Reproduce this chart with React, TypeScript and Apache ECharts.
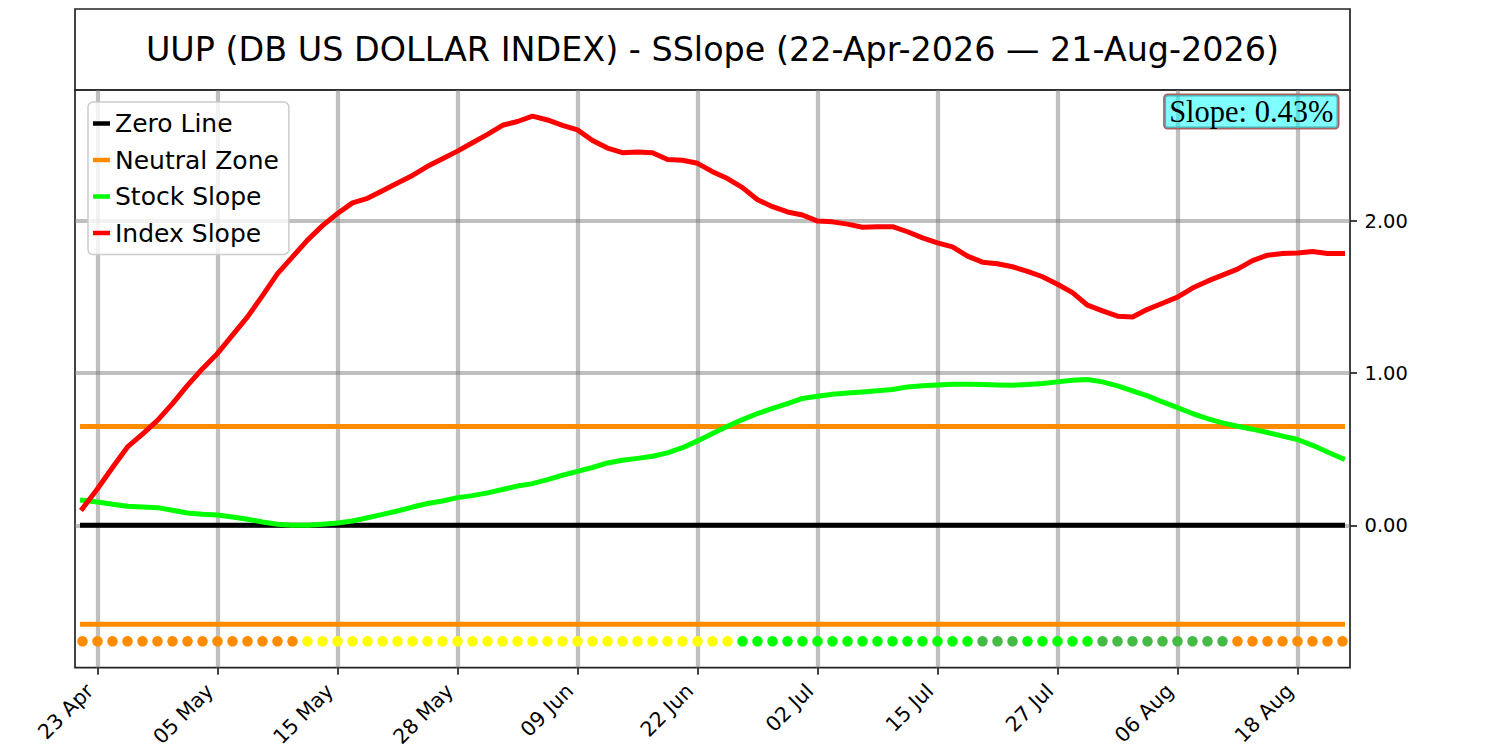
import { useEffect, useRef } from 'react';
import * as echarts from 'echarts';

const dates = [
  '22 Apr', '23 Apr', '24 Apr', '27 Apr', '28 Apr', '29 Apr', '30 Apr',
  '01 May', '04 May', '05 May', '06 May', '07 May', '08 May', '11 May', '12 May', '13 May', '14 May', '15 May',
  '18 May', '19 May', '20 May', '21 May', '22 May', '26 May', '27 May', '28 May', '29 May',
  '01 Jun', '02 Jun', '03 Jun', '04 Jun', '05 Jun', '08 Jun', '09 Jun', '10 Jun', '11 Jun', '12 Jun',
  '15 Jun', '16 Jun', '17 Jun', '18 Jun', '22 Jun', '23 Jun', '24 Jun', '25 Jun', '26 Jun', '29 Jun', '30 Jun',
  '01 Jul', '02 Jul', '06 Jul', '07 Jul', '08 Jul', '09 Jul', '10 Jul', '13 Jul', '14 Jul', '15 Jul',
  '16 Jul', '17 Jul', '20 Jul', '21 Jul', '22 Jul', '23 Jul', '24 Jul', '27 Jul', '28 Jul', '29 Jul', '30 Jul', '31 Jul',
  '03 Aug', '04 Aug', '05 Aug', '06 Aug', '07 Aug', '10 Aug', '11 Aug', '12 Aug', '13 Aug', '14 Aug', '17 Aug', '18 Aug',
  '19 Aug', '20 Aug', '21 Aug',
];

const indexSlope = [
  0.11, 0.24, 0.38, 0.515, 0.6, 0.69, 0.8, 0.92, 1.03, 1.13,
  1.25, 1.37, 1.51, 1.655, 1.765, 1.875, 1.97, 2.05, 2.12, 2.15,
  2.2, 2.25, 2.3, 2.36, 2.41, 2.46, 2.515, 2.57, 2.63, 2.655,
  2.69, 2.665, 2.63, 2.6, 2.53, 2.48, 2.45, 2.455, 2.45, 2.405,
  2.4, 2.38, 2.325, 2.28, 2.22, 2.14, 2.095, 2.06, 2.04, 2.0,
  1.995, 1.98, 1.96, 1.963, 1.963, 1.93, 1.89, 1.857, 1.83, 1.77,
  1.73, 1.72, 1.7, 1.67, 1.634, 1.585, 1.53, 1.447, 1.41, 1.375,
  1.37, 1.42, 1.46, 1.5, 1.56, 1.605, 1.645, 1.684, 1.74, 1.776,
  1.787, 1.79, 1.8, 1.787, 1.787,
];

const stockSlope = [
  0.164, 0.153, 0.138, 0.125, 0.12, 0.116, 0.099, 0.081, 0.072, 0.068,
  0.055, 0.04, 0.022, 0.007, 0.0, 0.0, 0.007, 0.015, 0.028, 0.05,
  0.072, 0.094, 0.12, 0.143, 0.16, 0.182, 0.195, 0.213, 0.235, 0.258,
  0.274, 0.3, 0.329, 0.355, 0.38, 0.41, 0.428, 0.44, 0.454, 0.476,
  0.51, 0.555, 0.603, 0.651, 0.695, 0.735, 0.768, 0.8, 0.834, 0.849,
  0.862, 0.87, 0.877, 0.884, 0.893, 0.91, 0.918, 0.923, 0.928, 0.928,
  0.926, 0.923, 0.921, 0.926, 0.932, 0.943, 0.954, 0.958, 0.943, 0.917,
  0.884, 0.851, 0.811, 0.774, 0.735, 0.702, 0.673, 0.651, 0.632, 0.61,
  0.586, 0.564, 0.526, 0.482, 0.439,
];

// O = orange, Y = yellow, G = bright green, g = muted green
const dotStatus = [
  'O', 'O', 'O', 'O', 'O', 'O', 'O', 'O', 'O', 'O', 'O', 'O', 'O', 'O', 'O',
  'Y', 'Y', 'Y', 'Y', 'Y', 'Y', 'Y', 'Y', 'Y', 'Y', 'Y', 'Y', 'Y', 'Y', 'Y',
  'Y', 'Y', 'Y', 'Y', 'Y', 'Y', 'Y', 'Y', 'Y', 'Y', 'Y', 'Y', 'Y', 'Y',
  'G', 'G', 'G', 'G', 'G', 'G', 'G', 'G', 'G', 'G', 'G', 'G', 'G', 'G', 'G', 'G',
  'g', 'g', 'g',
  'G', 'G', 'G', 'G', 'G',
  'g', 'g', 'g', 'g', 'g', 'g', 'g', 'g', 'g',
  'O', 'O', 'O', 'O', 'O', 'O', 'O', 'O',
];

const statusColors: Record<string, string> = {
  O: '#ff8c00',
  Y: '#ffff00',
  G: '#00ff00',
  g: '#45bb45',
};

const zeroLevel = 0;
const neutralZone = 0.65;
const dotLevel = -0.763;
const yTicks = [0, 1, 2];
const xTickLabels = ['23 Apr', '05 May', '15 May', '28 May', '09 Jun', '22 Jun', '02 Jul', '15 Jul', '27 Jul', '06 Aug', '18 Aug'];
const yMin = -0.936;
const yMax = 2.862;
const titleText = 'UUP (DB US DOLLAR INDEX) - SSlope (22-Apr-2026 \u2014 21-Aug-2026)';
const slopeText = 'Slope: 0.43%';

const FONT = 'DejaVu Sans';

export default function App() {
  const ref = useRef<HTMLDivElement>(null);

  useEffect(() => {
    if (!ref.current) return;
    const chart = echarts.init(ref.current, null, { renderer: 'svg' });
    const last = dates.length - 1;
    const xTickIdx = xTickLabels.map((l) => dates.indexOf(l));
    const gridColor = 'rgba(128,128,128,0.5)';
    const spine = '#222222';
    const LW = 5;

    const hLine = (name: string, y: number, color: string) => ({
      name,
      type: 'line',
      data: [[0, y], [last, y]],
      symbol: 'none',
      silent: true,
      lineStyle: { color, width: LW, cap: 'square' },
      itemStyle: { color },
      emphasis: { disabled: true },
      z: 3,
    });

    chart.setOption({
      animation: false,
      grid: {
        left: 75, right: 150, top: 90, bottom: 82,
        show: true, borderColor: spine, borderWidth: 1.7, backgroundColor: 'transparent',
      },
      xAxis: {
        type: 'value',
        position: 'bottom',
        min: -0.5,
        max: last + 0.5,
        axisLine: { show: false, onZero: false },
        axisTick: { show: true, customValues: xTickIdx, length: 7, lineStyle: { color: spine, width: 1.7 } },
        axisLabel: {
          customValues: xTickIdx,
          formatter: (v: number) => dates[Math.round(v)] ?? '',
          rotate: 45,
          margin: 12,
          padding: [0, 11, 0, 0],
          fontFamily: FONT,
          fontSize: 20.5,
          color: '#000',
        },
        splitLine: { show: true, lineStyle: { color: gridColor, width: 4.2 } },
      },
      yAxis: {
        type: 'value',
        position: 'right',
        min: yMin,
        max: yMax,
        axisLine: { show: false, onZero: false },
        axisTick: { show: true, customValues: yTicks, length: 7, lineStyle: { color: spine, width: 1.7 } },
        axisLabel: {
          customValues: yTicks,
          formatter: (v: number) => v.toFixed(2),
          margin: 14.5,
          fontFamily: FONT,
          fontSize: 19.5,
          color: '#000',
        },
        splitLine: { show: true, lineStyle: { color: gridColor, width: 4.2 } },
      },
      legend: {
        data: ['Zero Line', 'Neutral Zone', 'Stock Slope', 'Index Slope'],
        orient: 'vertical',
        left: 88,
        top: 102,
        icon: 'rect',
        itemWidth: 17,
        itemHeight: 4.5,
        itemGap: 11.5,
        padding: [9, 10, 9, 5],
        backgroundColor: 'rgba(255,255,255,0.8)',
        borderColor: '#cccccc',
        borderWidth: 1.5,
        borderRadius: 5,
        selectedMode: false,
        textStyle: { fontFamily: FONT, fontSize: 25, color: '#000' },
      },
      graphic: [
        {
          type: 'rect',
          shape: { x: 75, y: 9, width: 1275, height: 81 },
          style: { fill: 'none', stroke: spine, lineWidth: 1.7 },
          silent: true,
        },
        {
          type: 'text',
          x: 712.5,
          y: 49.5,
          style: {
            text: titleText,
            fontFamily: FONT,
            fontSize: 33.4,
            fill: '#000',
            align: 'center',
            verticalAlign: 'middle',
          },
          silent: true,
        },
        {
          type: 'text',
          x: 1338,
          y: 95,
          z: 100,
          style: {
            text: slopeText,
            fontFamily: 'Liberation Serif',
            fontSize: 30.5,
            fill: '#000',
            align: 'right',
            verticalAlign: 'top',
            backgroundColor: 'rgba(0,255,255,0.5)',
            borderColor: '#a86060',
            borderWidth: 1.5,
            borderRadius: 3,
            padding: [1, 4.5, 1, 4.5],
          },
          silent: true,
        },
      ],
      series: [
        hLine('Zero Line', zeroLevel, '#000000'),
        hLine('Neutral Zone', neutralZone, '#ff8c00'),
        hLine('Neutral Zone', -neutralZone, '#ff8c00'),
        {
          name: 'Stock Slope',
          type: 'line',
          data: stockSlope.map((v, i) => [i, v]),
          symbol: 'none',
          silent: true,
          lineStyle: { color: '#00ff00', width: LW, cap: 'square', join: 'round' },
          itemStyle: { color: '#00ff00' },
          emphasis: { disabled: true },
          z: 4,
        },
        {
          name: 'Index Slope',
          type: 'line',
          data: indexSlope.map((v, i) => [i, v]),
          symbol: 'none',
          silent: true,
          lineStyle: { color: '#ff0000', width: LW, cap: 'square', join: 'round' },
          itemStyle: { color: '#ff0000' },
          emphasis: { disabled: true },
          z: 5,
        },
        {
          name: 'Status',
          type: 'scatter',
          data: dotStatus.map((s, i) => ({
            value: [i, dotLevel],
            itemStyle: { color: statusColors[s], opacity: 1 },
          })),
          symbol: 'circle',
          symbolSize: 10.5,
          itemStyle: { opacity: 1 },
          silent: true,
          emphasis: { disabled: true },
          z: 6,
        },
      ],
    });

    return () => chart.dispose();
  }, []);

  return (
    <div
      ref={ref}
      style={{ position: 'absolute', left: 0, top: 0, width: 1500, height: 750, background: '#fff' }}
    />
  );
}
